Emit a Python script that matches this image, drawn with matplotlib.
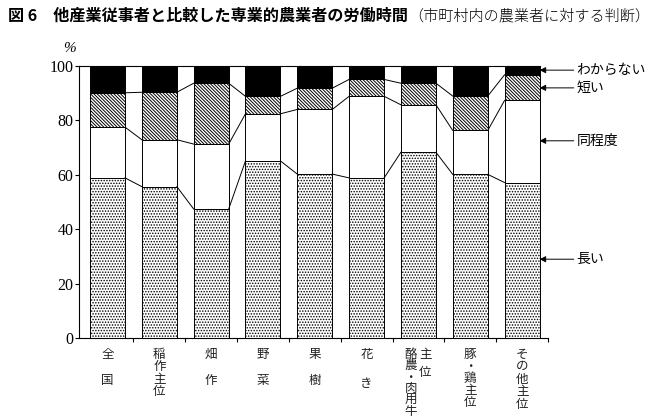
import numpy as np
import matplotlib
matplotlib.use("Agg")
import matplotlib.pyplot as plt

plt.rcParams['font.family'] = ['Noto Sans CJK JP', 'DejaVu Sans']
plt.rcParams['hatch.linewidth'] = 0.7

# categories (vertical labels, one char per line) and their line spacing
labels = ["全\n\n国", "稲\n作\n主\n位", "畑\n\n作", "野\n\n菜", "果\n\n樹",
          "花\n\nき", "酪\n農\n・\n肉\n用\n牛", "豚\n・\n鶏\n主\n位", "そ\nの\n他\n主\n位"]
label_ls = [1.0, 0.95, 1.0, 1.0, 1.0, 1.15, 0.85, 0.9, 0.95]
label_dx = [0, 0, 0, 0, 0, 0, -0.15, 0, 0]

# shares (%)
long_ = [58.8, 55.6, 47.4, 65.0, 60.2, 58.8, 68.2, 60.1, 57.1]
same = [18.6, 17.2, 23.8, 17.3, 23.7, 29.9, 17.4, 16.1, 30.1]
short = [12.6, 17.4, 22.3, 6.4, 7.8, 6.2, 7.9, 12.6, 9.4]
unknown = [10.0, 9.8, 6.5, 11.3, 8.3, 5.1, 6.5, 11.2, 3.4]

series_names = ["長い", "同程度", "短い", "わからない"]
arrow_at = [29.0, 72.4, 91.8, 98.3]   # where the right-hand arrows point

title_bold = "図 6　他産業従事者と比較した専業的農業者の労働時間"
title_rest = "（市町村内の農業者に対する判断）"

x = np.arange(len(labels))
w = 0.676

fig = plt.figure(figsize=(6.58, 4.17), dpi=100)
ax = fig.add_axes([0.1205, 0.1887, 0.7123, 0.6542])

styles = [dict(facecolor='white', hatch='......'),
          dict(facecolor='white'),
          dict(facecolor='white', hatch='\\' * 10),
          dict(facecolor='black')]
bottom = np.zeros(len(x))
tops = []
for vals, st in zip([long_, same, short, unknown], styles):
    vals = np.array(vals)
    ax.bar(x, vals, w, bottom=bottom, edgecolor='black', linewidth=0.7, **st)
    bottom = bottom + vals
    tops.append(bottom.copy())

# lines joining the layer boundaries across the gaps
for t in tops[:3]:
    for i in range(len(x) - 1):
        ax.plot([x[i] + w / 2, x[i + 1] - w / 2], [t[i], t[i + 1]],
                color='black', lw=0.7)

ax.set_xlim(-0.545, 8.5)
ax.set_ylim(0, 100)
ax.spines['right'].set_visible(False)
ax.spines['top'].set_bounds(-0.545, x[-1] + w / 2)
for s in ax.spines.values():
    s.set_linewidth(0.8)

ax.set_yticks([0, 20, 40, 60, 80, 100])
ax.set_yticklabels(['0', '20', '40', '60', '80', '100'],
                   family='Liberation Serif', fontsize=11.5)
ax.tick_params(axis='y', direction='out', length=3, width=0.8, pad=1)
ax.set_xticks(x + 0.5)
ax.set_xticklabels([])
ax.tick_params(axis='x', direction='out', length=3, width=0.8)

for xi, lab, ls, dx in zip(x, labels, label_ls, label_dx):
    ax.text(xi + dx, -3.5, lab, ha='center', va='top', fontsize=9,
            linespacing=ls, color='#222222')
ax.text(x[6] + 0.13, -3.5, "主\n位", ha='center', va='top', fontsize=9,
        linespacing=1.5, color='#222222')

# right-hand labels with arrows
for name, yv in zip(series_names, arrow_at):
    ax.annotate(name, xy=(x[-1] + w / 2, yv), xytext=(9.05, yv),
                ha='left', va='center', fontsize=10,
                arrowprops=dict(arrowstyle='-|>', color='black', lw=0.7,
                                shrinkA=0, shrinkB=0, mutation_scale=9),
                annotation_clip=False)

fig.text(69 / 658, 1 - 48 / 417, "%", fontsize=11, family='Liberation Serif',
         style='italic', ha='center', va='center')

t1 = fig.text(8 / 658, 1 - 16 / 417, title_bold, fontsize=11.6,
              fontweight='bold', ha='left', va='center')
ax.annotate(title_rest, xy=(1, 0.5), xycoords=t1, ha='left', va='center',
            fontsize=10.9, fontweight='light')

fig.savefig('out.png', dpi=100)
